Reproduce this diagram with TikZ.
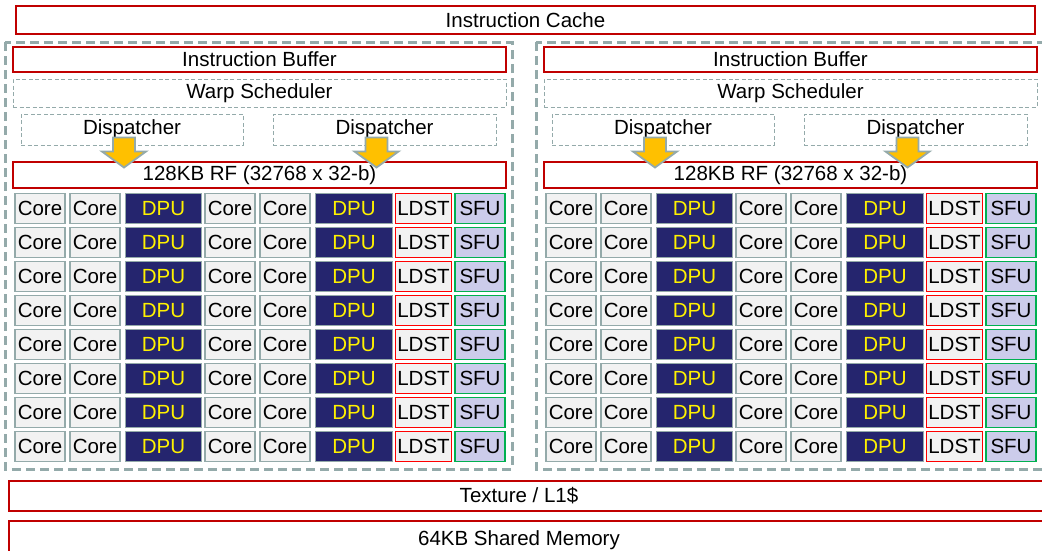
\documentclass[tikz,border=0pt]{standalone}
\usepackage{fontspec}
\setmainfont{Liberation Sans}
\usetikzlibrary{calc}

\definecolor{smgray}{HTML}{94AAAA}
\definecolor{boxred}{HTML}{C00000}
\definecolor{ldstred}{HTML}{FF0000}
\definecolor{sfugreen}{HTML}{00B050}
\definecolor{dpublue}{HTML}{25256E}
\definecolor{cellfill}{HTML}{F2F2F2}
\definecolor{sfufill}{HTML}{CCCCEB}
\definecolor{arrowfill}{HTML}{FFC000}

\begin{document}
\begin{tikzpicture}[
  x=1pt, y=-1pt,
  every node/.style = {font=\fontsize{20.5}{24}\selectfont, inner sep=0pt},
  redbox/.style   = {draw=boxred, line width=1.6pt, rectangle},
  dashbox/.style  = {draw=smgray, line width=1pt, dash pattern=on 4pt off 2.5pt},
  smbox/.style    = {draw=smgray, line width=3pt, dash pattern=on 9pt off 5pt},
  cell/.style     = {rectangle, minimum height=30pt, line width=1.6pt},
  core/.style     = {cell, draw=smgray, fill=cellfill},
  dpu/.style      = {cell, draw=smgray, fill=dpublue, text=yellow, line width=1pt},
  ldst/.style     = {cell, draw=ldstred, fill=cellfill, line width=1.5pt},
  sfu/.style      = {cell, draw=sfugreen, fill=sfufill},
  disparrow/.style = {draw=smgray, fill=arrowfill, line width=1.8pt, line join=miter},
]
  \useasboundingbox (0,0) rectangle (1042,550);

  % shared parts
  \node[redbox, minimum width=1019pt, minimum height=28pt] (icache) at (525.5,20) {Instruction Cache};
  \node[redbox, minimum width=1060pt, minimum height=30pt, anchor=west] (tex) at (8,496) {};
  \node at (519,496) (texlbl) {Texture / L1\$};
  \node[redbox, minimum width=1060pt, minimum height=40pt, anchor=north west] (smem) at (8,520) {};
  \node at (519,540) (smemlbl) {64KB Shared Memory};

  % two SMs
  \foreach \s/\dx in {l/0, r/531} {
    \draw[smbox] (\dx+5,42) rectangle (\dx+512,469);
    \node[redbox, minimum width=493pt, minimum height=25pt] (\s-ib) at (\dx+259.5,59.5) {Instruction Buffer};
    \node[dashbox, minimum width=493pt, minimum height=28pt] (\s-ws) at (\dx+259.5,93) {Warp Scheduler};
    \node[dashbox, minimum width=222pt, minimum height=31pt] (\s-d1) at (\dx+132,129.5) {Dispatcher};
    \node[dashbox, minimum width=223pt, minimum height=31pt] (\s-d2) at (\dx+384.5,129.5) {Dispatcher};
    \node[redbox, minimum width=493pt, minimum height=26pt] (\s-rf) at (\dx+259.5,175) {128KB RF (32768 x 32-b)};

    \foreach \i in {1,2}
      \draw[disparrow, shift={($(\s-d\i.south)+(-8,0)$)}]
        (-11,-8) -- (11,-8) -- (11,6) -- (22,6) -- (0,22) -- (-22,6) -- (-11,6) -- cycle;

    % core grid
    \foreach \r in {0,...,7}
      \foreach \c/\kind/\cx/\w/\txt in {1/core/40/50/Core, 2/core/95/50/Core, 3/dpu/163.5/76/DPU,
          4/core/230/50/Core, 5/core/285/50/Core, 6/dpu/354/77/DPU,
          7/ldst/423.5/56/LDST, 8/sfu/480/50/SFU}
        \node[\kind, minimum width=\w pt] (\s-\r-\c) at (\dx+\cx,208.5+34*\r) {\txt};
  }
\end{tikzpicture}
\end{document}
